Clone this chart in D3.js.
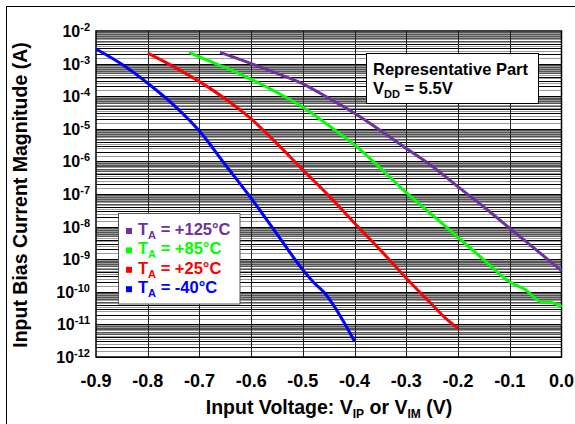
<!DOCTYPE html>
<html>
<head>
<meta charset="utf-8">
<script src="https://cdn.jsdelivr.net/npm/d3@7/dist/d3.min.js"></script>
<style>
  body { margin: 0; background: #fff; }
  text { font-family: "Liberation Sans", Arial, sans-serif; font-weight: bold; }
</style>
</head>
<body>
<svg id="chart" width="575" height="424"></svg>
<script>
// ---- data (volts, amps) ----
const xTicks = [-0.9, -0.8, -0.7, -0.6, -0.5, -0.4, -0.3, -0.2, -0.1, 0.0];
const yDecades = [-12, -11, -10, -9, -8, -7, -6, -5, -4, -3, -2];

const vP125 = [-0.66, -0.6, -0.55, -0.5, -0.45, -0.4, -0.35, -0.3, -0.25, -0.2, -0.15, -0.1, -0.05, 0.0];
const iP125 = [2.2e-3, 1.0e-3, 5.0e-4, 2.4e-4, 8.7e-5, 3.0e-5, 8.9e-6, 2.5e-6, 7.1e-7, 1.66e-7, 4.0e-8, 8.9e-9, 2.0e-9, 4.4e-10];

const vP85 = [-0.72, -0.7, -0.65, -0.6, -0.55, -0.5, -0.45, -0.4, -0.35, -0.3, -0.25, -0.2, -0.15, -0.1, -0.07, -0.04, -0.02, 0.0];
const iP85 = [2.2e-3, 1.6e-3, 7.6e-4, 3.3e-4, 1.3e-4, 4.6e-5, 1.26e-5, 3.2e-6, 6.2e-7, 1.1e-7, 2.3e-8, 4.7e-9, 9.5e-10, 2.0e-10, 1.15e-10, 5.0e-11, 4.7e-11, 3.5e-11];

const vP25 = [-0.8, -0.75, -0.7, -0.65, -0.6, -0.55, -0.5, -0.45, -0.4, -0.35, -0.3, -0.25, -0.22, -0.2];
const iP25 = [2.1e-3, 8.1e-4, 2.8e-4, 8.3e-5, 2.0e-5, 3.5e-6, 5.5e-7, 8.9e-8, 1.26e-8, 1.9e-9, 2.6e-10, 4.0e-11, 1.35e-11, 7.6e-12];

const vN40 = [-0.9, -0.85, -0.8, -0.75, -0.7, -0.65, -0.6, -0.55, -0.5, -0.48, -0.46, -0.4];
const iN40 = [2.8e-3, 9.5e-4, 2.5e-4, 5.4e-5, 8.5e-6, 7.9e-7, 7.4e-8, 5.9e-9, 4.7e-10, 2.0e-10, 1.0e-10, 3.0e-12];

const seriesNames = ["+125°C", "+85°C", "+25°C", "-40°C"];
const seriesColors = ["#7030a0", "#00ff00", "#ff0000", "#0000ff"];
const seriesV = [vP125, vP85, vP25, vN40];
const seriesI = [iP125, iP85, iP25, iN40];

// ---- layout ----
const svg = d3.select("#chart");
const margin = { left: 96, right: 561.5, top: 31, bottom: 357 };

const x = d3.scaleLinear().domain([-0.9, 0]).range([margin.left, margin.right]);
const y = d3.scaleLog().domain([1e-12, 1e-2]).range([margin.bottom, margin.top]);

// outer frame
svg.append("rect")
    .attr("x", 6.5).attr("y", 6.5)
    .attr("width", 580).attr("height", 430)
    .attr("fill", "none").attr("stroke", "#000").attr("stroke-width", 1);

// horizontal log grid
const gridG = svg.append("g").attr("shape-rendering", "crispEdges");
yDecades.slice(0, -1).forEach(n => {
    for (let k = 1; k < 10; k++) {
        const major = k * Math.pow(10, n);
        const minor = (k + 0.5) * Math.pow(10, n);
        gridG.append("line")
            .attr("x1", margin.left).attr("x2", margin.right)
            .attr("y1", Math.round(y(minor)) + 0.5).attr("y2", Math.round(y(minor)) + 0.5)
            .attr("stroke", "#9a9a9a").attr("stroke-width", 1);
        gridG.append("line")
            .attr("x1", margin.left).attr("x2", margin.right)
            .attr("y1", Math.round(y(major)) + 0.5).attr("y2", Math.round(y(major)) + 0.5)
            .attr("stroke", k < 5 ? "#000" : "#555").attr("stroke-width", 1);
    }
});

// vertical grid
gridG.selectAll(".vgrid")
    .data(xTicks.slice(1, -1))
    .join("line")
    .attr("x1", d => Math.round(x(d)) + 0.5).attr("x2", d => Math.round(x(d)) + 0.5)
    .attr("y1", margin.top).attr("y2", margin.bottom)
    .attr("stroke", "#222").attr("stroke-width", 1);

// plot frame
svg.append("rect")
    .attr("x", margin.left).attr("y", margin.top)
    .attr("width", margin.right - margin.left).attr("height", margin.bottom - margin.top)
    .attr("fill", "none").attr("stroke", "#000").attr("stroke-width", 1.5);

// curves
const line = d3.line()
    .x(d => x(d[0]))
    .y(d => y(d[1]))
    .curve(d3.curveMonotoneX);

[3, 2, 1, 0].forEach(i => {
    svg.append("path")
        .datum(seriesV[i].map((v, j) => [v, seriesI[i][j]]))
        .attr("fill", "none")
        .attr("stroke", seriesColors[i])
        .attr("stroke-width", 3)
        .attr("d", line);
});

// y tick labels
const yLab = svg.append("g").selectAll("text")
    .data(yDecades)
    .join("text")
    .attr("x", 90)
    .attr("y", d => y(Math.pow(10, d)) + 6)
    .attr("text-anchor", "end")
    .attr("font-size", 16);
yLab.append("tspan").text("10");
yLab.append("tspan").attr("dy", -6).attr("font-size", 11).text(d => d);

// x tick labels
svg.append("g").selectAll("text")
    .data(xTicks)
    .join("text")
    .attr("x", d => x(d))
    .attr("y", 387)
    .attr("text-anchor", "middle")
    .attr("font-size", 18)
    .text(d => d.toFixed(1));

// x title
const xt = svg.append("text")
    .attr("x", 329).attr("y", 414)
    .attr("text-anchor", "middle")
    .attr("font-size", 19.5);
xt.append("tspan").text("Input Voltage: V");
xt.append("tspan").attr("dy", 4).attr("font-size", 12).text("IP");
xt.append("tspan").attr("dy", -4).text(" or V");
xt.append("tspan").attr("dy", 4).attr("font-size", 12).text("IM");
xt.append("tspan").attr("dy", -4).text(" (V)");

// y title
svg.append("text")
    .attr("transform", "translate(27,195) rotate(-90)")
    .attr("text-anchor", "middle")
    .attr("font-size", 19.5)
    .text("Input Bias Current Magnitude (A)");

// legend
const legend = svg.append("g");
legend.append("rect")
    .attr("x", 118.5).attr("y", 213.5)
    .attr("width", 121.5).attr("height", 90.5)
    .attr("fill", "#fff").attr("stroke", "#555").attr("stroke-width", 1);

const rows = legend.selectAll(".row")
    .data(seriesNames)
    .join("g")
    .attr("transform", (d, i) => `translate(126,${235 + i * 19.4})`);
rows.append("rect")
    .attr("x", 0).attr("y", -7)
    .attr("width", 6).attr("height", 6)
    .attr("fill", (d, i) => seriesColors[i]);
const lt = rows.append("text")
    .attr("x", 12).attr("y", 0)
    .attr("font-size", 16.5)
    .attr("fill", (d, i) => seriesColors[i]);
lt.append("tspan").text("T");
lt.append("tspan").attr("dy", 4).attr("font-size", 11).text("A");
lt.append("tspan").attr("dy", -4).text(d => " = " + d);

// annotation box
svg.append("rect")
    .attr("x", 366.5).attr("y", 53.5)
    .attr("width", 172).attr("height", 50)
    .attr("fill", "#fff").attr("stroke", "#000").attr("stroke-width", 1);
svg.append("text")
    .attr("x", 373).attr("y", 75)
    .attr("font-size", 16.5)
    .text("Representative Part");
const vdd = svg.append("text")
    .attr("x", 373).attr("y", 93.5)
    .attr("font-size", 16.5);
vdd.append("tspan").text("V");
vdd.append("tspan").attr("dy", 4).attr("font-size", 11).text("DD");
vdd.append("tspan").attr("dy", -4).text(" = 5.5V");
</script>
</body>
</html>
